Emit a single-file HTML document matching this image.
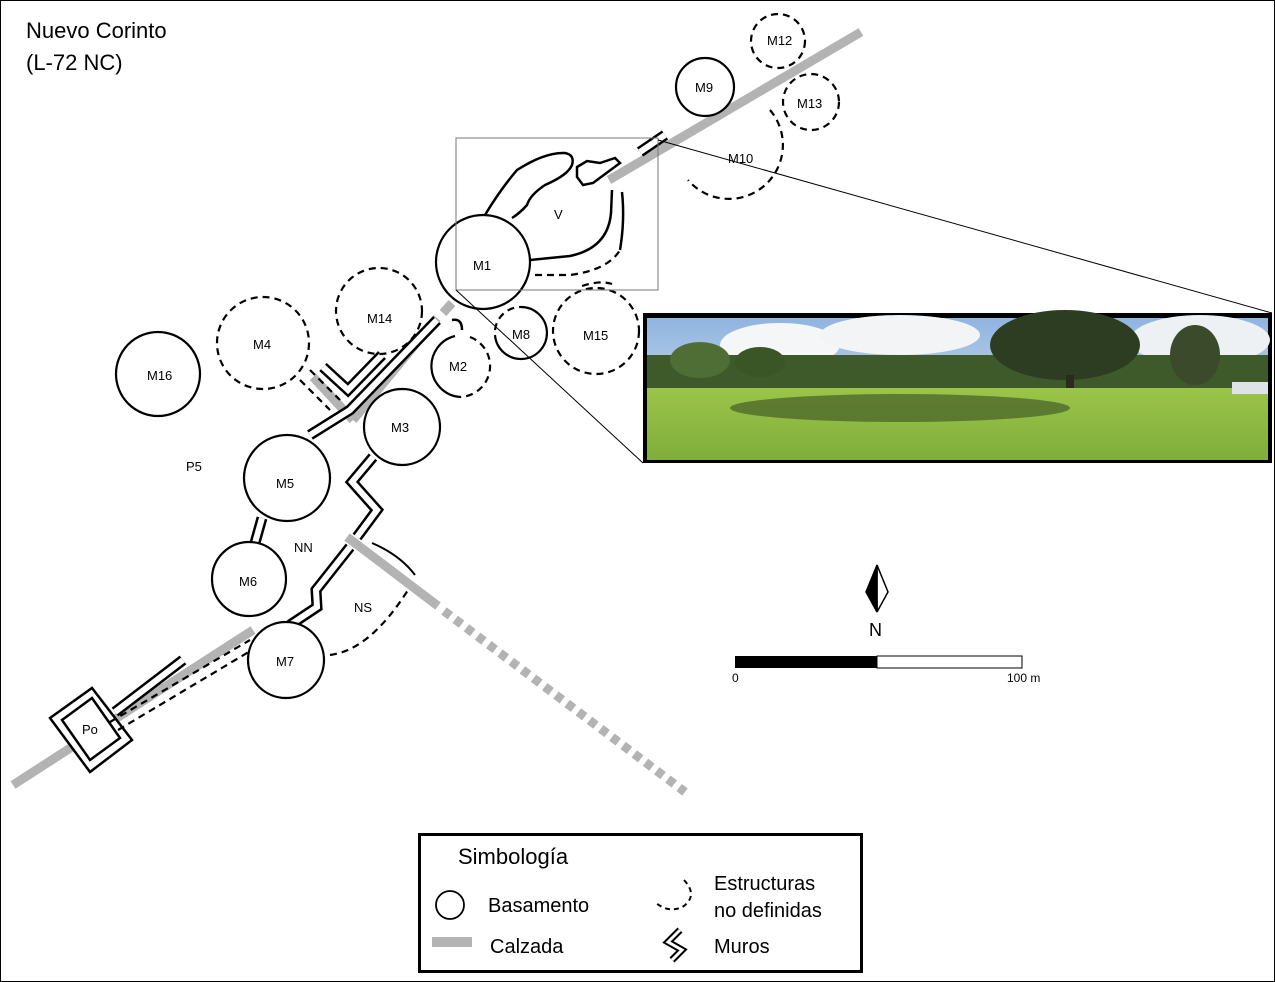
<!DOCTYPE html>
<html><head><meta charset="utf-8"><style>
html,body{margin:0;padding:0;background:#fff}
svg{display:block;font-family:"Liberation Sans",sans-serif}
</style></head><body>
<svg width="1275" height="982" viewBox="0 0 1275 982">
<defs>
<linearGradient id="sky" x1="0" y1="0" x2="0" y2="1"><stop offset="0" stop-color="#8fb4e0"/><stop offset="1" stop-color="#e8eef4"/></linearGradient>
<linearGradient id="grass" x1="0" y1="0" x2="0" y2="1"><stop offset="0" stop-color="#9cc44a"/><stop offset="1" stop-color="#7fae3a"/></linearGradient>
</defs>
<rect x="0.5" y="0.5" width="1274" height="981" fill="#fff" stroke="#000"/>
<text x="26" y="38" font-size="22">Nuevo Corinto</text>
<text x="26" y="70" font-size="22">(L-72 NC)</text>

<!-- roads (calzadas) -->
<g stroke="#b3b3b3" stroke-width="9" fill="none">
<line x1="13" y1="785" x2="253" y2="630"/>
<line x1="609" y1="180" x2="861" y2="32"/>
<line x1="437" y1="318" x2="353" y2="420"/>
<line x1="313" y1="377" x2="353" y2="420"/>
<line x1="443" y1="313" x2="452" y2="303"/>
<line x1="347" y1="537" x2="438" y2="606"/>
<line x1="444" y1="611" x2="685" y2="792" stroke-dasharray="8,6"/>
</g>

<!-- walls as double lines -->
<g fill="none" stroke-linejoin="miter">
<g stroke="#000" stroke-width="11">
<polyline points="373,457 352,482 377,510 357,537"/>
<polyline points="350,547 316,590 317,607 290,625"/>
<polyline points="262,518 255,543"/>
<polyline points="310,435 350,410 437,320"/>
<polyline points="323,367 348,390 382,355"/>
<polyline points="115,712 183,660"/>
<polyline points="640,152 665,135"/>
</g>
<g stroke="#fff" stroke-width="6">
<polyline points="373,457 352,482 377,510 357,537"/>
<polyline points="350,547 316,590 317,607 290,625"/>
<polyline points="262,518 255,543"/>
<polyline points="310,435 350,410 437,320"/>
<polyline points="323,367 348,390 382,355"/>
<polyline points="115,712 183,660"/>
<polyline points="640,152 665,135"/>
</g>
</g>
<!-- Po -->
<g fill="#fff" stroke="#000" stroke-width="2.5">
<polygon points="50,718 92,688 132,740 90,772"/>
<polygon points="62,720 92,698 120,738 90,760"/>
<polygon points="70,712 112,712 112,748 70,748" fill="none" stroke="none"/>
</g>
<text x="82" y="734" font-size="13">Po</text>

<g fill="none" stroke="#000" stroke-width="2.2" stroke-dasharray="7,5">
<line x1="110" y1="722" x2="250" y2="640"/>
<line x1="118" y1="730" x2="252" y2="650"/>
<line x1="300" y1="380" x2="330" y2="410"/>
<line x1="310" y1="370" x2="340" y2="400"/>
<path d="M330,655 Q370,650 408,590"/>
<path d="M535,275 L570,275 Q608,270 620,250"/>
<path d="M582,286 Q600,280 612,284"/>
<circle cx="263" cy="343" r="46"/>
<circle cx="379" cy="311" r="43"/>
<path d="M470,337 A31,31 0 0 1 460,397"/>
<circle cx="596" cy="331" r="43"/>
<circle cx="778" cy="41" r="27"/>
<circle cx="811" cy="102" r="28"/>
<path d="M770,110 A52,52 0 0 1 688,180"/>
<path d="M495,330 A26,26 0 0 1 520,307"/>
</g>

<g fill="#fff" stroke="#000" stroke-width="2.2">
<circle cx="483" cy="262" r="47"/>
<circle cx="402" cy="427" r="38"/>
<circle cx="287" cy="478" r="43"/>
<circle cx="249" cy="579" r="37"/>
<circle cx="286" cy="660" r="38"/>
<circle cx="158" cy="374" r="42"/>
<circle cx="705" cy="87" r="29"/>
<path d="M520,307 A26,26 0 1 1 495,335" fill="none"/>
<path d="M455,336 A31,31 0 0 0 460,397" fill="none"/>
</g>
<g fill="none" stroke="#000" stroke-width="2.5">
<path d="M485,215 Q500,190 517,170 Q545,152 565,153 Q575,155 572,165 Q568,175 545,185 Q530,195 527,205 Q520,213 512,218"/>
<path d="M530,260 L570,256 Q608,248 611,213 L612,190"/>
<path d="M620,250 Q625,220 622,192"/>
<polygon points="577,167 587,161 600,163 615,158 620,163 593,183 583,185 577,177"/>
<path d="M372,543 Q400,555 415,575" stroke-width="2"/>
<path d="M452,320 Q462,318 462,330"/>
</g>
<rect x="456" y="138" width="202" height="152" fill="none" stroke="#777" stroke-width="1"/>
<line x1="658" y1="140" x2="1272" y2="313" stroke="#000" stroke-width="1"/>
<line x1="456" y1="290" x2="643" y2="463" stroke="#000" stroke-width="1"/>

<g font-size="13">
<text x="473" y="270">M1</text><text x="554" y="219">V</text>
<text x="391" y="432">M3</text><text x="276" y="488">M5</text>
<text x="239" y="586">M6</text><text x="276" y="666">M7</text>
<text x="147" y="380">M16</text><text x="253" y="349">M4</text>
<text x="367" y="323">M14</text><text x="449" y="371">M2</text>
<text x="512" y="339">M8</text><text x="583" y="340">M15</text>
<text x="695" y="92">M9</text><text x="767" y="45">M12</text>
<text x="797" y="108">M13</text><text x="728" y="163">M10</text>
<text x="186" y="471">P5</text><text x="294" y="552">NN</text>
<text x="354" y="612">NS</text>
</g>

<!-- photo -->
<g>
<rect x="643" y="313" width="629" height="150" fill="#000"/>
<rect x="647" y="318" width="621" height="142" fill="url(#sky)"/>
<ellipse cx="780" cy="345" rx="60" ry="22" fill="#f4f6f8"/>
<ellipse cx="900" cy="335" rx="80" ry="20" fill="#f2f4f6"/>
<ellipse cx="1200" cy="340" rx="70" ry="25" fill="#eef1f3"/>
<rect x="647" y="355" width="621" height="35" fill="#3f5a2a"/>
<ellipse cx="700" cy="360" rx="30" ry="18" fill="#4f6e35"/>
<ellipse cx="760" cy="362" rx="25" ry="15" fill="#3a5526"/>
<ellipse cx="1065" cy="345" rx="75" ry="35" fill="#2d3d22"/>
<ellipse cx="1195" cy="355" rx="25" ry="30" fill="#3a4a2a"/>
<rect x="1066" y="375" width="8" height="25" fill="#2a2a1e"/>
<rect x="647" y="388" width="621" height="72" fill="url(#grass)"/>
<ellipse cx="900" cy="408" rx="170" ry="14" fill="#4d6a2c" opacity="0.8"/>
<rect x="1232" y="382" width="36" height="12" fill="#dfe3e6"/>
</g>

<!-- north arrow + scale -->
<g>
<polygon points="877,565 888,592 877,612" fill="#fff" stroke="#000" stroke-width="1.5"/>
<polygon points="877,565 866,592 877,612" fill="#000" stroke="#000" stroke-width="1.5"/>
<text x="869" y="636" font-size="18">N</text>
</g>
<g>
<rect x="735" y="656" width="142" height="12" fill="#000"/>
<rect x="877" y="656" width="145" height="12" fill="#fff" stroke="#000" stroke-width="1"/>
<text x="732" y="682" font-size="12">0</text>
<text x="1007" y="682" font-size="12">100 m</text>
</g>

<!-- legend -->
<g>
<rect x="419.5" y="834.5" width="442" height="137" fill="#fff" stroke="#000" stroke-width="3"/>
<text x="458" y="864" font-size="22">Simbología</text>
<circle cx="450" cy="905" r="14" fill="#fff" stroke="#000" stroke-width="1.8"/>
<text x="488" y="912" font-size="20">Basamento</text>
<rect x="432" y="937" width="40" height="10" fill="#b3b3b3"/>
<text x="490" y="953" font-size="20">Calzada</text>
<path d="M684,880 Q698,895 684,906 Q670,914 656,903" fill="none" stroke="#000" stroke-width="2" stroke-dasharray="5,4"/>
<text x="714" y="890" font-size="20">Estructuras</text>
<text x="714" y="917" font-size="20">no definidas</text>
<g fill="none"><polyline points="680,930 668,942 682,950 672,960" stroke="#000" stroke-width="7"/><polyline points="680,930 668,942 682,950 672,960" stroke="#fff" stroke-width="3"/></g>
<text x="714" y="953" font-size="20">Muros</text>
</g>
</svg>
</body></html>
